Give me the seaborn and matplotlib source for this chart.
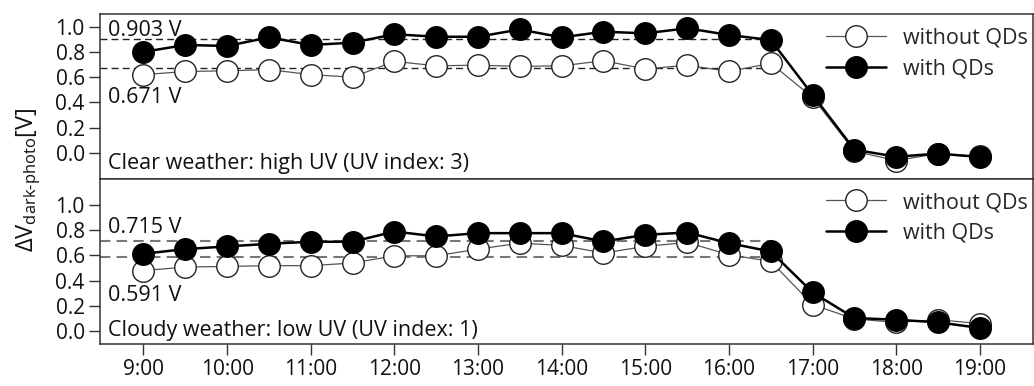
import numpy as np
import pandas as pd
import matplotlib
matplotlib.use("Agg")
import matplotlib.pyplot as plt
import seaborn as sns

# ---- data -------------------------------------------------------------
hours = [9.0, 9.5, 10.0, 10.5, 11.0, 11.5, 12.0, 12.5, 13.0, 13.5, 14.0,
         14.5, 15.0, 15.5, 16.0, 16.5, 17.0, 17.5, 18.0, 18.5, 19.0]
tick_hours = [9, 10, 11, 12, 13, 14, 15, 16, 17, 18, 19]
tick_labels = ["9:00", "10:00", "11:00", "12:00", "13:00", "14:00",
               "15:00", "16:00", "17:00", "18:00", "19:00"]

clear_without = [0.62, 0.645, 0.65, 0.66, 0.62, 0.60, 0.725, 0.69, 0.695,
                 0.685, 0.69, 0.73, 0.665, 0.695, 0.645, 0.71, 0.44,
                 0.013, -0.06, -0.005, -0.027]
clear_with = [0.80, 0.855, 0.847, 0.915, 0.855, 0.873, 0.94, 0.92, 0.92,
              0.978, 0.915, 0.96, 0.947, 0.987, 0.934, 0.894, 0.46,
              0.026, -0.03, -0.005, -0.032]

cloudy_without = [0.48, 0.508, 0.513, 0.519, 0.519, 0.54, 0.597, 0.597,
                  0.65, 0.697, 0.679, 0.619, 0.671, 0.703, 0.605, 0.553,
                  0.211, 0.098, 0.071, 0.092, 0.061]
cloudy_with = [0.613, 0.65, 0.671, 0.692, 0.708, 0.708, 0.789, 0.75, 0.776,
               0.776, 0.776, 0.71, 0.763, 0.781, 0.697, 0.631, 0.308,
               0.105, 0.092, 0.071, 0.027]

clear_means = [0.903, 0.671]     # with QDs, without QDs
cloudy_means = [0.715, 0.591]

series_names = ["without QDs", "with QDs"]
panel_titles = ["Clear weather: high UV (UV index: 3)",
                "Cloudy weather: low UV (UV index: 1)"]

# ---- style ------------------------------------------------------------
sns.set_theme(style="white")
plt.rcParams["font.family"] = ["Open Sans", "DejaVu Sans"]
plt.rcParams["mathtext.fontset"] = "custom"
plt.rcParams["mathtext.rm"] = "Open Sans"
plt.rcParams["mathtext.it"] = "Open Sans"
plt.rcParams["mathtext.bf"] = "Open Sans"

FS = 15
TFS = 15.5
SPINE = "#333333"
INK = "#111111"
XLIM = (8.48, 19.63)

fig = plt.figure(figsize=(10.34, 3.86), dpi=100)
left, right = 0.0967, 0.9986
ax_top = fig.add_axes([left, 0.535, right - left, 0.9637 - 0.535])
ax_bot = fig.add_axes([left, 0.1088, right - left, 0.535 - 0.1088],
                      sharex=ax_top)


def draw_panel(ax, without, with_, means, title, ylim, mean_color, mean_lw,
               text_pos, legend_top):
    df = pd.DataFrame({"hour": hours, "without": without, "with": with_})
    sns.lineplot(data=df, x="hour", y="without", ax=ax, color="#555555",
                 linewidth=0.9, marker="o", markersize=15.5,
                 markerfacecolor="white", markeredgecolor="#222222",
                 markeredgewidth=1.0, label=series_names[0], zorder=3)
    sns.lineplot(data=df, x="hour", y="with", ax=ax, color="black",
                 linewidth=1.8, marker="o", markersize=15.5,
                 markerfacecolor="black", markeredgecolor="black",
                 markeredgewidth=1.0, label=series_names[1], zorder=4)
    end_hour = hours[15]
    for m in means:
        ax.hlines(m, XLIM[0], end_hour, colors=mean_color,
                  linestyles=(0, (5, 3)), linewidth=mean_lw, zorder=2)
    ax.set_xlim(*XLIM)
    ax.set_ylim(*ylim)
    ax.set_yticks([0.0, 0.2, 0.4, 0.6, 0.8, 1.0])
    ax.set_yticklabels(["0.0", "0.2", "0.4", "0.6", "0.8", "1.0"])
    ax.set_xlabel("")
    ax.set_ylabel("")
    tx = 0.0086
    ax.text(tx, text_pos[0], f"{means[0]:.3f} V", transform=ax.transAxes,
            fontsize=TFS, va="baseline", ha="left", color=INK)
    ax.text(tx, text_pos[1], f"{means[1]:.3f} V", transform=ax.transAxes,
            fontsize=TFS, va="baseline", ha="left", color=INK)
    ax.text(tx, text_pos[2], title, transform=ax.transAxes,
            fontsize=TFS, va="baseline", ha="left", color=INK)
    for s in ax.spines.values():
        s.set_color(SPINE)
        s.set_linewidth(1.1)
    ax.tick_params(axis="both", direction="out", length=8, width=1.0,
                   color=SPINE, labelsize=FS, labelcolor=INK, pad=3,
                   left=True, bottom=True)
    ax.legend(loc="upper right", bbox_to_anchor=(1.0, legend_top),
              frameon=False, fontsize=TFS, handlelength=2.8,
              handletextpad=0.8, labelspacing=0.45, borderaxespad=0.0,
              borderpad=0.2)


draw_panel(ax_top, clear_without, clear_with, clear_means, panel_titles[0],
           (-0.21, 1.10), "#222222", 1.0, (0.867, 0.46, 0.062), 0.945)
draw_panel(ax_bot, cloudy_without, cloudy_with, cloudy_means, panel_titles[1],
           (-0.10, 1.20), "#777777", 1.5, (0.673, 0.263, 0.05), 0.95)

ax_bot.set_xticks(tick_hours)
ax_bot.set_xticklabels(tick_labels)
ax_top.tick_params(axis="x", labelbottom=False)

fig.text(0.028, 0.535, r"$\Delta$V$_{\mathrm{dark\text{-}photo}}$[V]",
         rotation=90, ha="center", va="center", fontsize=17, color=INK)

fig.savefig("out.png", dpi=100)
